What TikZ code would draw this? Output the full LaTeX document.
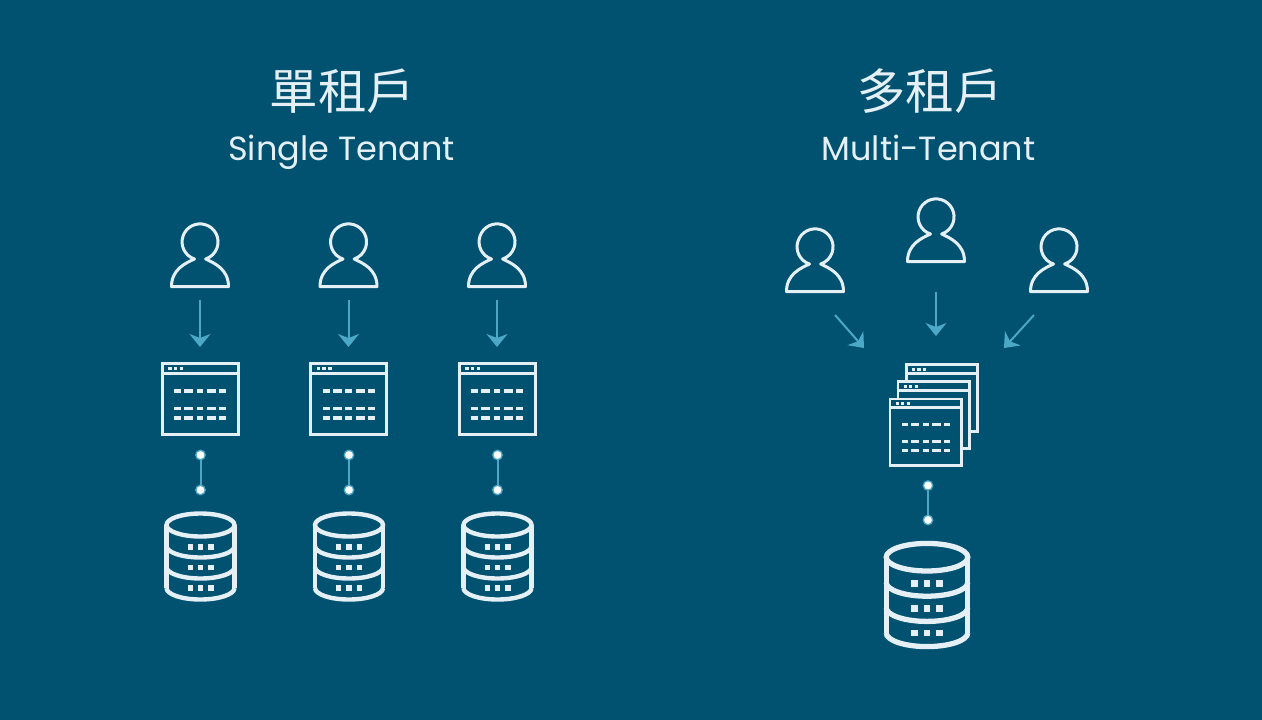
\documentclass[tikz,border=0pt]{standalone}
\usepackage{fontspec}
\setmainfont{Poppins}
\newfontfamily\cjkfont{Noto Sans CJK TC}
\usetikzlibrary{arrows.meta}
\definecolor{pagebg}{RGB}{0,82,112}
\definecolor{iconline}{RGB}{228,240,246}
\definecolor{linkteal}{RGB}{75,168,198}
\begin{document}
\begin{tikzpicture}[
  x=1pt, y=-1pt,
  zhtitle/.style={text=iconline, font=\cjkfont\fontsize{48.5}{50}\selectfont, inner sep=0pt},
  entitle/.style={text=iconline, font=\fontsize{33.5}{40}\selectfont, inner sep=0pt, anchor=base},
  flow/.style={-{Stealth[length=13pt,width=21pt,inset=4pt]}, line width=2pt, color=linkteal},
  link/.style={line width=2pt, color=linkteal},
  linkdot/.style={circle, draw=linkteal, fill=white, line width=1.3pt, minimum size=9.5pt, inner sep=0pt},
  pics/personicon/.style={code={
    \coordinate (-foot) at (0,44.5);
    \draw[iconline, line width=3pt, line join=round] (-5.5,17) arc [start angle=108, end angle=432, radius=18]
      .. controls (14,21) and (28.5,27) .. (28.5,44.5) -- (-28.5,44.5)
      .. controls (-28.5,27) and (-14,21) .. cycle;
  }},
  pics/windowicon/.style={code={
    \begin{scope}[scale=#1]
      \coordinate (-top) at (0,-36);
      \coordinate (-bot) at (0,36);
      \draw[iconline, fill=pagebg, line width=#1*3pt] (-38,-35.5) rectangle (38,35.5);
      \draw[iconline, line width=#1*3pt] (-38,-26) -- (38,-26);
      \foreach \dx in {-30,-24.5,-18.5} \fill[iconline] (\dx-1.7,-32.2) rectangle (\dx+1.7,-28.8);
    \end{scope}
  }},
  pics/windowicon/.default=1,
  pics/windowtext/.style={code={
    \begin{scope}[scale=#1]
      \foreach \dy in {-8,9.7,19} {
        \foreach \xa/\xb in {-25.7/-19,-15.7/-6.7,-3.3/3.3,7/16,19.3/26}
          \fill[iconline] (\xa,\dy-1.7) rectangle (\xb,\dy+1.7);
      }
    \end{scope}
  }},
  pics/windowtext/.default=1,
  pics/dbicon/.style={code={
    \begin{scope}[scale=#1]
      \draw[iconline, line width=#1*4.4pt] (0,0) ellipse [x radius=34, y radius=11.5];
      \draw[iconline, line width=#1*4.4pt] (-34,0) -- (-34,63) (34,0) -- (34,63);
      \foreach \dy in {21,42,63}
        \draw[iconline, line width=#1*4.4pt] (-34,\dy) arc [start angle=180, end angle=0, x radius=34, y radius=11.5];
      \foreach \dy in {22,42.7,63} {
        \foreach \dx in {-10.3,0,10.3}
          \fill[iconline] (\dx-2.7,\dy-2.7) rectangle (\dx+2.7,\dy+2.7);
      }
    \end{scope}
  }},
  pics/dbicon/.default=1
]
  \fill[pagebg] (0,0) rectangle (1262,720);
  \useasboundingbox (0,0) rectangle (1262,720);

  \node[zhtitle] (singlezh) at (342.5,91.5) {單租戶};
  \node[entitle] (singleen) at (341.5,160)  {Single Tenant};
  \node[zhtitle] (multizh)  at (930,91.5)   {多租戶};
  \node[entitle] (multien)  at (928.5,160)  {Multi-Tenant};

  \foreach \n/\x in {1/200,2/348.5,3/497} {
    \pic (user\n) at (\x,242) {personicon};
    \pic (app\n) at (\x,399) {windowicon};
    \pic at (\x,399) {windowtext};
    \pic at (\x+0.5,525) {dbicon};
    \node[linkdot] (top\n) at (\x+0.5,455) {};
    \node[linkdot] (bot\n) at (\x+0.5,490) {};
    \draw[link] (top\n) -- (bot\n);
    \draw[flow, shorten <=13pt, shorten >=16pt] (user\n-foot) -- (app\n-top);
  }

  \pic (userl) at (815,247)  {personicon};
  \pic (userm) at (936,217)  {personicon};
  \pic (userr) at (1059,247) {personicon};

  \pic (appc) at (942,398)     {windowicon=0.94};
  \pic (appb) at (933.8,415)   {windowicon=0.94};
  \pic (appa) at (925.7,432.3) {windowicon=0.94};
  \pic at (925.7,432.3) {windowtext=0.94};

  \coordinate (froml) at (835,315);
  \coordinate (tol)   at (864,348);
  \coordinate (fromr) at (1034,315);
  \coordinate (tor)   at (1004,348);
  \coordinate (tom)   at (936,336);
  \draw[flow] (froml) -- (tol);
  \draw[flow] (fromr) -- (tor);
  \draw[flow, shorten <=30pt] (userm-foot) -- (tom);

  \node[linkdot] (topm) at (928,485.5) {};
  \node[linkdot] (botm) at (928,520) {};
  \draw[link] (topm) -- (botm);
  \pic at (927,557.2) {dbicon=1.2};
\end{tikzpicture}
\end{document}
